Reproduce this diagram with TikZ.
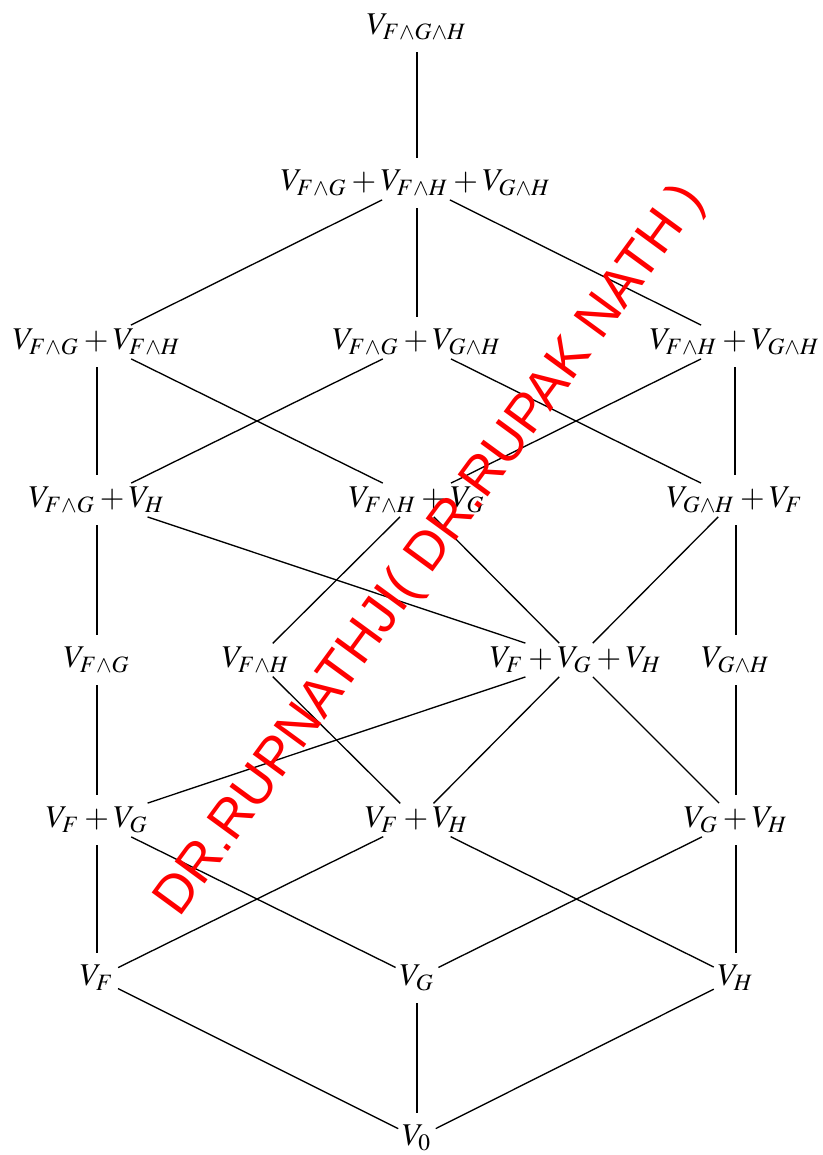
\documentclass[tikz,border=0pt]{standalone}
\usepackage{mathptmx}
\usepackage[no-math]{fontspec}
\newfontfamily\wmfont{Liberation Sans}
\tikzset{
  lat/.style={inner sep=1.2pt, outer sep=0pt, font=\fontsize{9.5}{11}\selectfont},
  diag/.style={line width=0.4pt},
  vert/.style={line width=0.75pt, shorten <=2.5pt, shorten >=2.5pt},
  wm/.style={text=red, font=\wmfont\fontsize{16.2}{18}\selectfont, rotate=53.8, inner sep=0pt}
}
\begin{document}
\begin{tikzpicture}[x=0.3pt,y=-0.3pt]
\useasboundingbox (0,0) rectangle (823,1155);
\node[lat] (top) at (417,27) {$V_{F\wedge G\wedge H}$};
\node[lat] (a2) at (416,183) {$V_{F\wedge G}+V_{F\wedge H}+V_{G\wedge H}$};
\node[lat] (L3) at (97,342) {$V_{F\wedge G}+V_{F\wedge H}$};
\node[lat] (M3) at (417,342) {$V_{F\wedge G}+V_{G\wedge H}$};
\node[lat] (R3) at (735,342) {$V_{F\wedge H}+V_{G\wedge H}$};
\node[lat] (L4) at (97,500) {$V_{F\wedge G}+V_{H}$};
\node[lat] (M4) at (417,500) {$V_{F\wedge H}+V_{G}$};
\node[lat] (R4) at (735,500) {$V_{G\wedge H}+V_{F}$};
\node[lat] (L5) at (97,660) {$V_{F\wedge G}$};
\node[lat] (C5) at (256,660) {$V_{F\wedge H}$};
\node[lat] (D5) at (576,660) {$V_{F}+V_{G}+V_{H}$};
\node[lat] (R5) at (736,660) {$V_{G\wedge H}$};
\node[lat] (L6) at (97,820) {$V_{F}+V_{G}$};
\node[lat] (M6) at (417,820) {$V_{F}+V_{H}$};
\node[lat] (R6) at (736,820) {$V_{G}+V_{H}$};
\node[lat] (L7) at (97,978) {$V_{F}$};
\node[lat] (M7) at (417,978) {$V_{G}$};
\node[lat] (R7) at (736,978) {$V_{H}$};
\node[lat] (B) at (417,1138) {$V_{0}$};
% top
\draw[vert] (top.south) -- (a2.north -| top);
\draw[diag] (a2) -- (L3);
\draw[vert] (a2.south -| M3) -- (M3.north);
\draw[diag] (a2) -- (R3);
% row3 -> row4
\draw[vert] (L3.south -| L4) -- (L4.north);
\draw[diag] (L3) -- (M4);
\draw[diag] (M3) -- (L4);
\draw[diag] (M3) -- (R4);
\draw[diag] (R3) -- (M4);
\draw[vert] (R3.south -| R4) -- (R4.north);
% row4 -> row5
\draw[vert] (L4.south -| L5) -- (L5.north);
\draw[diag] (L4) -- (D5);
\draw[diag] (M4) -- (C5);
\draw[diag] (M4) -- (D5);
\draw[diag] (R4) -- (D5);
\draw[vert] (R4.south -| R5) -- (R5.north);
% row5 -> row6
\draw[vert] (L5.south) -- (L6.north -| L5);
\draw[diag] (C5) -- (M6);
\draw[diag] (D5) -- (L6);
\draw[diag] (D5) -- (M6);
\draw[diag] (D5) -- (R6);
\draw[vert] (R5.south) -- (R6.north -| R5);
% row6 -> row7
\draw[vert] (L6.south -| L7) -- (L7.north);
\draw[diag] (L6) -- (M7);
\draw[diag] (M6) -- (L7);
\draw[diag] (M6) -- (R7);
\draw[diag] (R6) -- (M7);
\draw[vert] (R6.south -| R7) -- (R7.north);
% row7 -> bottom
\draw[diag] (L7) -- (B);
\draw[vert] (M7.south) -- (B.north);
\draw[diag] (R7) -- (B);
% watermark
\node[wm] (wmark) at (431,551) {DR.RUPNATHJI( DR.RUPAK NATH )};
\end{tikzpicture}
\end{document}
